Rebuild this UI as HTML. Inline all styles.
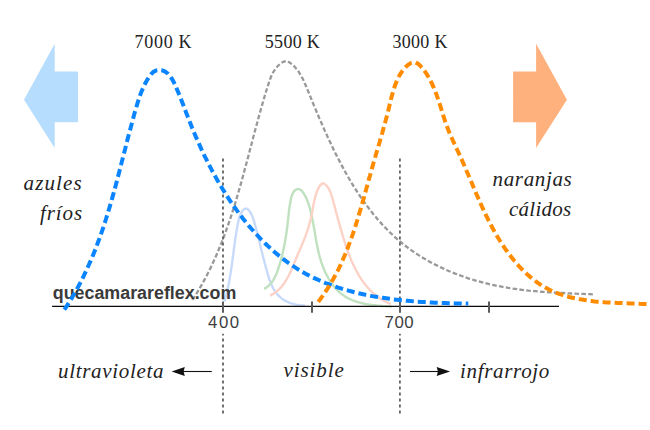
<!DOCTYPE html>
<html><head><meta charset="utf-8"><title>Temperatura de color</title>
<style>
html,body{margin:0;padding:0;background:#fff;}
svg{display:block}
.k{font-family:"Liberation Serif",serif;font-size:18px;fill:#222;letter-spacing:0.7px}
.it{font-family:"Liberation Serif",serif;font-style:italic;font-size:21px;fill:#222}
.ax{font-family:"Liberation Sans",sans-serif;font-size:16.8px;fill:#3d3d3d;letter-spacing:1.6px}
.wm{font-family:"Liberation Sans",sans-serif;font-weight:bold;font-size:17.85px;fill:#3a3a3a}
</style></head><body>
<svg width="650" height="430" viewBox="0 0 650 430">
<rect width="650" height="430" fill="#fff"/>
<polygon points="24,99.8 54.7,43.8 54.7,71.6 78,71.6 78,122.2 54.7,122.2 54.7,148" fill="#B6DDFE"/>
<polygon points="566.9,99.8 536.1,43.8 536.1,71.6 513.1,71.6 513.1,122.2 536.1,122.2 536.1,148" fill="#FFB17D"/>
<path d="M224.5 301.5L225.0 299.7L225.5 297.9L226.0 296.1L226.4 294.3L226.9 292.5L227.3 290.7L227.7 288.9L228.1 287.0L228.5 285.2L228.8 283.4L229.2 281.6L229.5 279.8L229.8 277.9L230.1 276.1L230.4 274.3L230.7 272.5L231.0 270.6L231.3 268.8L231.5 267.0L231.8 265.2L232.0 263.3L232.3 261.5L232.5 259.7L232.8 257.8L233.0 256.0L233.3 254.2L233.5 252.3L233.7 250.5L234.0 248.6L234.2 246.8L234.5 245.0L234.7 243.1L235.0 241.3L235.2 239.5L235.5 237.6L235.8 235.8L236.1 233.9L236.4 232.1L236.7 230.3L237.0 228.4L237.3 226.6L237.6 224.7L238.0 222.9L238.4 221.0L238.8 219.2L239.3 217.4L239.9 215.6L240.7 213.8L241.7 212.0L242.8 210.4L244.1 209.2L245.4 208.6L246.7 208.7L248.0 209.5L249.2 210.8L250.3 212.4L251.3 214.2L252.2 215.9L252.9 217.7L253.5 219.5L254.1 221.4L254.6 223.2L255.1 225.0L255.6 226.8L256.0 228.6L256.5 230.4L257.0 232.2L257.4 234.0L257.9 235.8L258.3 237.6L258.8 239.4L259.2 241.2L259.7 243.0L260.1 244.8L260.6 246.6L261.0 248.4L261.4 250.1L261.9 251.9L262.3 253.7L262.8 255.5L263.2 257.3L263.7 259.1L264.2 260.9L264.6 262.7L265.1 264.5L265.6 266.3L266.1 268.1L266.6 269.9L267.1 271.7L267.6 273.5L268.1 275.4L268.7 277.1L269.2 278.9L269.9 280.7L270.5 282.4L271.2 284.1L272.0 285.8L272.8 287.5L273.7 289.1L274.6 290.6L275.6 292.1L276.7 293.5L277.8 294.9L279.1 296.2L280.4 297.4L281.9 298.6L283.4 299.7L285.0 300.6L286.8 301.5L288.6 302.4L290.4 303.1L292.3 303.7L294.2 304.2L296.1 304.7L297.9 305.0L299.8 305.3L301.6 305.5L303.3 305.5L305.0 305.5" fill="none" stroke="#C8DAFA" stroke-width="2.4"/>
<path d="M264.0 288.9L266.1 287.7L267.9 286.3L269.6 284.7L271.1 283.0L272.5 281.2L273.7 279.3L274.8 277.2L275.9 275.1L276.8 272.9L277.6 270.7L278.4 268.5L279.1 266.2L279.8 263.9L280.5 261.6L281.1 259.3L281.7 257.1L282.3 254.8L282.8 252.5L283.3 250.2L283.8 247.9L284.3 245.6L284.7 243.3L285.1 241.0L285.5 238.7L285.9 236.4L286.3 234.1L286.6 231.8L286.9 229.5L287.2 227.2L287.5 224.9L287.7 222.6L288.0 220.3L288.2 218.0L288.5 215.7L288.7 213.4L289.0 211.0L289.3 208.7L289.6 206.4L290.0 204.0L290.4 201.7L290.9 199.3L291.4 196.9L292.1 194.6L293.2 192.4L294.7 190.5L296.5 189.3L298.4 188.9L300.2 189.5L301.8 190.9L303.4 192.9L304.8 195.3L306.0 197.6L307.0 199.9L307.9 202.2L308.7 204.4L309.4 206.6L310.0 208.8L310.5 211.0L311.1 213.2L311.6 215.4L312.1 217.7L312.5 219.9L312.9 222.2L313.4 224.5L313.8 226.8L314.2 229.1L314.6 231.4L315.0 233.7L315.4 236.0L315.8 238.4L316.2 240.7L316.6 243.0L317.1 245.3L317.5 247.6L318.0 249.9L318.6 252.2L319.1 254.5L319.7 256.8L320.4 259.0L321.0 261.3L321.8 263.5L322.5 265.7L323.4 267.9L324.3 270.1L325.2 272.2L326.3 274.4L327.4 276.4L328.5 278.5L329.7 280.5L331.0 282.5L332.4 284.4L333.8 286.2L335.3 288.0L336.8 289.7L338.5 291.3L340.2 292.8L342.0 294.3L343.8 295.6L345.7 296.9L347.7 298.0L349.8 299.1L352.0 300.0L354.2 300.9L356.4 301.6L358.7 302.3L361.0 302.9L363.4 303.5L365.7 304.0L368.1 304.4L370.5 304.7L372.9 305.1L375.3 305.3L377.7 305.6L380.1 305.8L382.4 306.0L384.7 306.1L387.0 306.2L389.2 306.4L391.4 306.5" fill="none" stroke="#BFE1BF" stroke-width="2.4"/>
<path d="M270.2 295.6L272.3 294.4L274.3 293.2L276.2 291.8L277.9 290.4L279.5 288.8L281.0 287.2L282.5 285.5L283.8 283.7L285.1 281.9L286.3 280.0L287.4 278.0L288.5 276.0L289.5 274.0L290.5 271.9L291.5 269.8L292.4 267.7L293.3 265.6L294.1 263.4L295.0 261.3L295.8 259.2L296.7 257.0L297.6 254.9L298.5 252.8L299.4 250.7L300.3 248.7L301.2 246.6L302.1 244.5L302.9 242.4L303.8 240.4L304.6 238.3L305.5 236.2L306.2 234.0L307.0 231.9L307.7 229.7L308.4 227.6L309.0 225.4L309.6 223.2L310.2 220.9L310.8 218.7L311.3 216.5L311.8 214.3L312.2 212.0L312.6 209.8L313.0 207.5L313.4 205.3L313.8 203.1L314.3 200.8L314.8 198.6L315.4 196.4L316.1 194.2L316.8 192.0L317.7 189.8L318.8 187.6L320.0 185.6L321.4 184.1L322.9 183.4L324.5 183.9L326.2 185.3L327.8 187.2L329.1 189.4L330.2 191.6L331.1 193.8L331.8 196.1L332.5 198.3L333.1 200.5L333.6 202.7L334.2 204.9L334.8 207.1L335.4 209.3L335.9 211.5L336.5 213.6L337.1 215.8L337.7 218.0L338.3 220.1L338.9 222.3L339.5 224.4L340.1 226.6L340.8 228.8L341.4 230.9L342.0 233.1L342.7 235.3L343.3 237.5L344.0 239.7L344.7 241.9L345.4 244.1L346.1 246.3L346.9 248.4L347.6 250.6L348.4 252.8L349.2 255.0L350.1 257.1L350.9 259.2L351.8 261.4L352.8 263.5L353.7 265.5L354.7 267.6L355.7 269.6L356.8 271.6L357.9 273.6L359.0 275.6L360.2 277.5L361.4 279.4L362.7 281.2L364.0 283.0L365.4 284.8L366.8 286.5L368.3 288.2L369.8 289.8L371.4 291.4L373.1 292.9L374.8 294.4L376.5 295.8L378.4 297.2L380.2 298.5L382.2 299.7L384.2 300.9L386.3 302.0L388.5 303.1L390.7 304.0" fill="none" stroke="#FCD2C7" stroke-width="2.4"/>
<path d="M192.5 300.0L194.4 297.0L196.2 294.1L198.0 291.1L199.8 288.1L201.5 285.1L203.2 282.1L204.8 279.1L206.4 276.1L208.0 273.0L209.5 269.9L211.0 266.9L212.5 263.8L213.9 260.7L215.3 257.6L216.7 254.5L218.0 251.3L219.3 248.2L220.6 245.0L221.9 241.9L223.1 238.7L224.3 235.5L225.5 232.3L226.6 229.1L227.8 225.9L228.9 222.7L230.0 219.5L231.0 216.3L232.1 213.0L233.1 209.8L234.2 206.5L235.2 203.3L236.2 200.0L237.1 196.7L238.1 193.4L239.0 190.2L240.0 186.9L240.9 183.6L241.8 180.3L242.7 177.0L243.6 173.7L244.5 170.4L245.4 167.0L246.3 163.7L247.2 160.4L248.1 157.1L249.0 153.7L249.8 150.4L250.7 147.1L251.6 143.8L252.5 140.4L253.3 137.1L254.2 133.7L255.1 130.4L256.0 127.1L256.9 123.7L257.8 120.4L258.7 117.1L259.7 113.7L260.6 110.4L261.5 107.0L262.5 103.7L263.5 100.4L264.4 97.0L265.4 93.7L266.4 90.4L267.5 87.1L268.5 83.8L269.6 80.5L270.8 77.3L272.2 74.2L273.8 71.3L275.6 68.5L277.8 66.0L280.3 63.7L283.2 61.8L286.3 61.0L289.3 62.3L292.0 64.3L294.4 66.5L296.5 68.9L298.5 71.5L300.2 74.3L301.8 77.1L303.3 80.1L304.7 83.2L306.1 86.3L307.4 89.5L308.7 92.6L310.0 95.8L311.3 99.0L312.6 102.2L313.9 105.4L315.3 108.6L316.6 111.8L318.0 115.0L319.3 118.2L320.7 121.3L322.1 124.5L323.5 127.7L324.9 130.9L326.4 134.1L327.8 137.3L329.3 140.4L330.8 143.6L332.3 146.7L333.8 149.9L335.3 153.0L336.9 156.1L338.5 159.2L340.1 162.3L341.7 165.4L343.3 168.4L345.0 171.5L346.7 174.5L348.4 177.5L350.2 180.5L351.9 183.4L353.7 186.3L355.6 189.3L357.4 192.1L359.3 195.0L361.2 197.8L363.2 200.6L365.2 203.4L367.2 206.1L369.2 208.8L371.3 211.5L373.4 214.2L375.6 216.8L377.7 219.4L380.0 221.9L382.2 224.4L384.5 226.9L386.9 229.3L389.2 231.7L391.7 234.0L394.1 236.3L396.6 238.6L399.2 240.8L401.8 242.9L404.4 245.1L407.1 247.1L409.8 249.2L412.6 251.1L415.4 253.0L418.3 254.9L421.2 256.7L424.1 258.5L427.1 260.2L430.1 261.9L433.1 263.6L436.2 265.1L439.3 266.7L442.4 268.1L445.6 269.6L448.8 271.0L452.0 272.3L455.2 273.6L458.5 274.8L461.8 276.0L465.0 277.2L468.3 278.3L471.7 279.3L475.0 280.4L478.3 281.3L481.6 282.2L485.0 283.1L488.3 283.9L491.7 284.7L495.0 285.4L498.4 286.1L501.7 286.7L505.1 287.3L508.4 287.9L511.8 288.4L515.2 288.9L518.5 289.4L521.9 289.8L525.2 290.2L528.6 290.6L532.0 290.9L535.4 291.2L538.7 291.5L542.1 291.8L545.5 292.0L548.9 292.3L552.3 292.5L555.7 292.7L559.1 292.9L562.6 293.0L566.0 293.2L569.4 293.4L572.9 293.5L576.3 293.7L579.8 293.8L583.2 293.9L586.7 294.1L590.2 294.2L593.7 294.4" fill="none" stroke="#999" stroke-width="2.3" stroke-dasharray="4.6 2.3"/>
<line x1="52.1" y1="306.4" x2="559" y2="306.4" stroke="#0a0a0a" stroke-width="1.35"/>
<g stroke="#5c5c5c" stroke-width="2">
<line x1="223" y1="301.4" x2="223" y2="312.8"/><line x1="312" y1="301.4" x2="312" y2="312.8"/>
<line x1="400" y1="301.4" x2="400" y2="312.8"/><line x1="489" y1="301.4" x2="489" y2="312.8"/></g>
<g stroke="#626262" stroke-width="1.8" stroke-dasharray="3.1 2.9">
<line x1="223" y1="158.4" x2="223" y2="413.6"/><line x1="399.9" y1="158.4" x2="399.9" y2="413.6"/></g>
<text class="wm" x="52.8" y="299.2">quecamarareflex.com</text>
<path d="M64.3 309.7L66.3 306.8L68.1 303.9L70.0 301.0L71.8 298.0L73.5 295.1L75.3 292.1L76.9 289.1L78.6 286.0L80.2 283.0L81.8 279.9L83.3 276.8L84.8 273.7L86.3 270.6L87.7 267.4L89.1 264.3L90.5 261.1L91.9 257.9L93.2 254.7L94.5 251.5L95.8 248.3L97.0 245.1L98.2 241.8L99.4 238.6L100.6 235.3L101.7 232.1L102.8 228.8L103.9 225.5L105.0 222.2L106.0 219.0L107.0 215.7L108.0 212.4L109.0 209.1L110.0 205.8L111.0 202.5L111.9 199.2L112.8 195.9L113.8 192.5L114.7 189.2L115.6 185.9L116.5 182.6L117.3 179.2L118.2 175.9L119.1 172.6L119.9 169.2L120.8 165.9L121.6 162.6L122.5 159.2L123.3 155.9L124.2 152.5L125.1 149.2L125.9 145.8L126.8 142.5L127.6 139.1L128.5 135.8L129.4 132.4L130.3 129.1L131.2 125.7L132.1 122.3L133.0 119.0L133.9 115.6L134.8 112.3L135.8 108.9L136.8 105.6L137.8 102.2L138.9 98.9L140.0 95.6L141.2 92.3L142.6 89.1L144.0 85.9L145.6 82.8L147.3 79.7L149.2 76.8L151.2 74.0L153.6 71.7L156.4 70.4L159.3 70.0L162.3 70.4L165.1 71.6L167.6 73.4L169.8 75.9L171.8 78.7L173.7 81.9L175.3 85.4L176.8 88.9L178.3 92.4L179.7 95.9L181.0 99.3L182.3 102.6L183.6 105.8L184.8 109.1L186.0 112.2L187.3 115.4L188.5 118.5L189.7 121.6L190.9 124.7L192.1 127.8L193.4 130.9L194.7 134.0L196.0 137.1L197.4 140.2L198.8 143.3L200.2 146.5L201.6 149.6L203.1 152.7L204.5 155.8L206.1 158.9L207.6 162.0L209.2 165.1L210.8 168.2L212.4 171.3L214.1 174.3L215.8 177.4L217.5 180.4L219.3 183.5L221.1 186.5L222.9 189.5L224.7 192.4L226.6 195.4L228.5 198.3L230.5 201.3L232.4 204.2L234.4 207.0L236.5 209.9L238.5 212.7L240.6 215.5L242.7 218.3L244.9 221.0L247.1 223.7L249.3 226.4L251.6 229.0L253.9 231.6L256.2 234.2L258.6 236.7L260.9 239.2L263.4 241.6L265.8 244.0L268.3 246.4L270.8 248.7L273.4 251.0L276.0 253.2L278.6 255.4L281.3 257.5L284.0 259.6L286.7 261.7L289.5 263.6L292.3 265.6L295.1 267.4L298.0 269.3L300.9 271.0L303.9 272.7L306.8 274.4L309.9 275.9L312.9 277.5L316.0 278.9L319.1 280.3L322.3 281.7L325.4 283.0L328.6 284.2L331.9 285.4L335.1 286.6L338.4 287.7L341.7 288.7L345.0 289.7L348.4 290.6L351.8 291.5L355.1 292.4L358.5 293.2L362.0 294.0L365.4 294.7L368.8 295.4L372.3 296.1L375.7 296.7L379.2 297.3L382.7 297.8L386.2 298.3L389.7 298.8L393.1 299.3L396.6 299.7L400.1 300.1L403.6 300.5L407.1 300.8L410.6 301.1L414.1 301.4L417.6 301.7L421.1 301.9L424.5 302.1L428.0 302.3L431.4 302.5L434.9 302.7L438.3 302.8L441.7 303.0L445.1 303.1L448.5 303.2L451.8 303.3L455.1 303.4L458.5 303.4L461.7 303.5L465.0 303.6L468.3 303.6" fill="none" stroke="#0A84FF" stroke-width="4" stroke-dasharray="8 4"/>
<path d="M318.2 301.9L320.2 299.3L322.1 296.7L323.9 294.1L325.7 291.4L327.4 288.8L329.1 286.1L330.8 283.3L332.4 280.6L333.9 277.8L335.5 275.0L336.9 272.2L338.4 269.4L339.8 266.5L341.1 263.6L342.4 260.7L343.7 257.8L345.0 254.8L346.2 251.9L347.4 248.9L348.5 245.9L349.6 242.9L350.7 239.9L351.8 236.9L352.9 233.9L353.9 230.8L354.9 227.8L355.9 224.7L356.8 221.7L357.8 218.6L358.7 215.5L359.6 212.4L360.5 209.4L361.4 206.3L362.3 203.2L363.2 200.1L364.1 197.0L364.9 193.9L365.8 190.8L366.6 187.8L367.5 184.7L368.3 181.6L369.1 178.5L370.0 175.5L370.8 172.4L371.7 169.4L372.5 166.4L373.4 163.3L374.3 160.3L375.2 157.3L376.0 154.3L376.9 151.3L377.8 148.3L378.7 145.3L379.6 142.3L380.4 139.2L381.3 136.2L382.2 133.2L383.0 130.1L383.9 127.0L384.8 123.9L385.6 120.8L386.4 117.7L387.3 114.5L388.1 111.3L388.9 108.1L389.6 104.9L390.4 101.6L391.2 98.3L392.1 95.1L393.0 91.8L394.0 88.7L395.0 85.5L396.2 82.5L397.4 79.5L398.8 76.6L400.4 73.9L402.1 71.3L404.1 68.8L406.2 66.5L408.5 64.5L410.8 63.0L413.2 62.4L415.6 62.6L418.0 63.8L420.2 65.7L422.3 68.1L424.3 70.6L426.2 73.3L427.9 76.1L429.5 78.9L431.0 81.7L432.4 84.6L433.7 87.6L434.9 90.6L436.1 93.6L437.2 96.7L438.3 99.7L439.3 102.8L440.3 105.9L441.3 109.1L442.2 112.2L443.2 115.3L444.2 118.4L445.2 121.5L446.3 124.5L447.4 127.5L448.5 130.5L449.7 133.5L451.0 136.4L452.3 139.3L453.6 142.2L455.0 145.1L456.3 148.0L457.7 150.8L459.0 153.7L460.3 156.6L461.7 159.5L462.9 162.4L464.2 165.3L465.5 168.2L466.7 171.1L468.0 174.0L469.2 177.0L470.4 179.9L471.7 182.8L472.9 185.7L474.1 188.7L475.4 191.6L476.6 194.5L477.9 197.4L479.2 200.3L480.5 203.2L481.8 206.2L483.1 209.1L484.4 211.9L485.8 214.8L487.2 217.7L488.6 220.6L490.1 223.4L491.6 226.2L493.1 229.1L494.7 231.9L496.3 234.7L497.9 237.5L499.6 240.2L501.3 243.0L503.1 245.7L504.9 248.4L506.8 251.0L508.7 253.7L510.7 256.2L512.7 258.8L514.7 261.3L516.8 263.7L518.9 266.1L521.1 268.4L523.4 270.7L525.7 272.9L528.0 275.1L530.4 277.1L532.8 279.1L535.3 281.0L537.8 282.9L540.4 284.6L543.1 286.3L545.8 287.8L548.5 289.3L551.4 290.7L554.2 292.0L557.1 293.1L560.1 294.2L563.1 295.2L566.1 296.1L569.2 297.0L572.3 297.7L575.4 298.4L578.6 299.1L581.8 299.6L585.0 300.1L588.2 300.6L591.5 301.0L594.7 301.4L598.0 301.7L601.3 301.9L604.5 302.2L607.8 302.4L611.1 302.6L614.4 302.8L617.6 302.9L620.8 303.0L624.1 303.2L627.3 303.3L630.5 303.4L633.6 303.5L636.7 303.6L639.8 303.8L642.9 303.9L645.9 304.1L648.9 304.3" fill="none" stroke="#FF8C00" stroke-width="4" stroke-dasharray="8 4"/>
<text class="k" x="134.6" y="48.2">7000 K</text>
<text class="k" x="264.8" y="48.2" style="letter-spacing:0.3px">5500 K</text>
<text class="k" x="392.4" y="48.2" style="letter-spacing:0.3px">3000 K</text>
<text class="it" x="23.6" y="190.2" style="letter-spacing:1.1px">azules</text>
<text class="it" x="40" y="219.5" style="letter-spacing:0.9px">fríos</text>
<text class="it" x="492.6" y="186.3" style="letter-spacing:0.64px">naranjas</text>
<text class="it" x="509" y="216" style="letter-spacing:0.25px">cálidos</text>
<text class="it" x="58" y="378" style="letter-spacing:0.69px">ultravioleta</text>
<text class="it" x="283.5" y="377.2" style="letter-spacing:0.9px">visible</text>
<text class="it" x="460" y="378" style="letter-spacing:0.68px">infrarrojo</text>
<rect x="205" y="313" width="37" height="20.8" fill="#fff"/><rect x="382" y="313" width="36" height="20.8" fill="#fff"/>
<text class="ax" x="224.4" y="328.4" text-anchor="middle">400</text>
<text class="ax" x="384.6" y="328.4" style="letter-spacing:0.5px">700</text>
<g stroke="#111" stroke-width="1.1" fill="#111">
<line x1="180" y1="371.5" x2="211.8" y2="371.5"/><polygon points="171.6,371.5 184.8,367 183.6,371.5 184.8,376" stroke="none"/>
<line x1="410" y1="371.5" x2="441" y2="371.5"/><polygon points="450.1,371.5 436.7,367 437.9,371.5 436.7,376" stroke="none"/>
</g>
</svg>
</body></html>
